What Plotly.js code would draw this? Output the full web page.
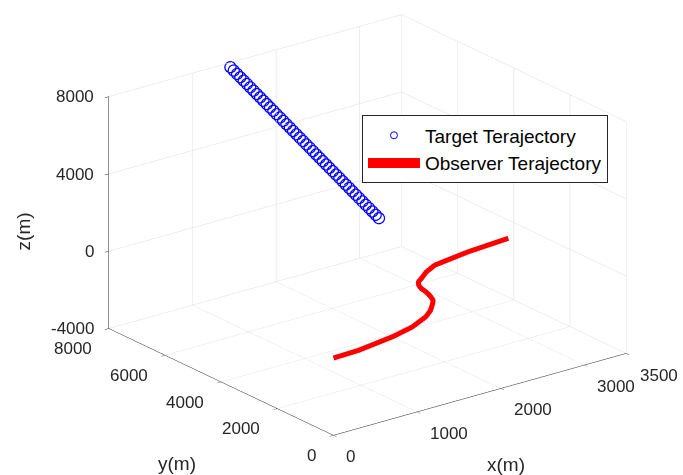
<!DOCTYPE html>
<html>
<head>
<meta charset="utf-8">
<script src="https://cdn.plot.ly/plotly-3.0.1.min.js"></script>
<style>html,body{margin:0;padding:0;background:#fff;}#chart{width:683px;height:475px;}#diag{position:absolute;left:5px;top:5px;font:12px monospace;color:#c00;}</style>
</head>
<body>
<div id="chart"></div>
<div id="diag"></div>
<script>
// Target trajectory (open circles)
const targetX = [1450,1489,1529,1568,1608,1647,1686,1726,1765,1805,1844,1884,1923,1963,2002,2042,2081,2120,2160,2199,2239,2278,2318,2357,2397,2436,2475,2515,2554,2594,2633,2673,2712,2752,2791,2830,2870,2909,2949,2988,3028,3067,3107,3146,3186,3225];
const targetY = [8000,8000,8000,8000,8000,8000,8000,8000,8000,8000,8000,8000,8000,8000,8000,8000,8000,8000,8000,8000,8000,8000,8000,8000,8000,8000,8000,8000,8000,8000,8000,8000,8000,8000,8000,8000,8000,8000,8000,8000,8000,8000,8000,8000,8000,8000];
const targetZ = [7775,7554,7332,7111,6889,6668,6447,6225,6004,5782,5561,5340,5118,4897,4675,4454,4233,4011,3790,3568,3347,3126,2904,2683,2461,2240,2019,1797,1576,1354,1133,912,690,469,247,26,-196,-417,-639,-860,-1081,-1303,-1524,-1746,-1967,-2188];

// Observer trajectory (red line)
const observerX = [0,314,778,1089,1348,1481,1612,1667,1718,1749,1761,1795,1838,1920,2063,2232,2465,2696,2954,3212];
const observerY = [0,32,221,430,725,957,1266,1417,1700,1943,2122,2309,2456,2590,2835,3041,3138,3230,3284,3338];
const observerZ = [0,0,0,0,0,0,0,0,0,0,0,0,0,0,0,0,0,0,0,0];

const xTicks = [0,1000,2000,3000,3500];
const yTicks = [0,2000,4000,6000,8000];
const zTicks = [-4000,0,4000,8000];
const xLimits = [0, 3500];
const yLimits = [0, 8000];
const zLimits = [-4000, 8000];

const font = 'Liberation Sans, Arial, Helvetica, sans-serif';
const txt = '#262626';

function axis(range, ticks) {
  return {
    title: {text: ''},
    range: range, autorange: false,
    tickmode: 'array', tickvals: ticks, showticklabels: false,
    showgrid: true, gridcolor: '#dcdcdc', gridwidth: 1,
    showline: true, linecolor: '#262626', linewidth: 1,
    ticks: 'outside', ticklen: 5, tickcolor: '#262626',
    zeroline: false, showbackground: false, showspikes: false
  };
}

const tickFont = {family: font, size: 17, color: txt};
const annotations = [];
xTicks.forEach(function (t, i) {
  const last = i === xTicks.length - 1;
  // the label at the far range end is anchored to the previous tick and shifted along the axis
  annotations.push({x: last ? xTicks[i - 1] : t, y: yLimits[0], z: zLimits[0], text: String(t), showarrow: false,
    xanchor: 'left', yanchor: 'middle',
    xshift: last ? 54 : 11, yshift: last ? -10 : -21, font: tickFont});
});
yTicks.forEach(function (t) {
  annotations.push({x: xLimits[0], y: t, z: zLimits[0], text: String(t), showarrow: false,
    xanchor: 'right', yanchor: 'middle', xshift: -15, yshift: -20, font: tickFont});
});
zTicks.forEach(function (t) {
  annotations.push({x: xLimits[0], y: yLimits[1], z: t, text: String(t), showarrow: false,
    xanchor: 'right', yanchor: 'middle', xshift: -13, yshift: 0, font: tickFont});
});
const titleFont = {family: font, size: 19, color: txt};
annotations.push({x: (xLimits[0] + xLimits[1]) / 2, y: yLimits[0], z: zLimits[0], text: 'x(m)',
  showarrow: false, xanchor: 'center', yanchor: 'middle', xshift: 26, yshift: -70, font: titleFont});
annotations.push({x: xLimits[0], y: (yLimits[0] + yLimits[1]) / 2, z: zLimits[0], text: 'y(m)',
  showarrow: false, xanchor: 'center', yanchor: 'middle', xshift: -44, yshift: -81, font: titleFont});
annotations.push({x: xLimits[0], y: yLimits[1], z: 2000, text: 'z(m)', textangle: -90,
  showarrow: false, xanchor: 'center', yanchor: 'middle', xshift: -85, yshift: -19, font: titleFont});

const traces = [
  {type: 'scatter3d', mode: 'markers', name: 'Target Terajectory',
   x: targetX, y: targetY, z: targetZ,
   marker: {symbol: 'circle-open', size: 7, color: '#0000ff'}},
  {type: 'scatter3d', mode: 'lines', name: 'Observer Terajectory',
   x: observerX, y: observerY, z: observerZ,
   line: {color: '#ff0000', width: 10}}
];

const s = 1.64;
const layout = {
  width: 683, height: 475,
  margin: {l: 0, r: 0, t: 0, b: 0},
  paper_bgcolor: '#ffffff',
  showlegend: true,
  legend: {x: 0.53, y: 0.757, xanchor: 'left', yanchor: 'top', itemwidth: 52,
           bgcolor: '#ffffff', bordercolor: '#262626', borderwidth: 1,
           font: {family: font, size: 19, color: '#000000'}},
  scene: {
    domain: {x: [0.076, 1.0], y: [0.052, 1.0]},
    xaxis: axis(xLimits, xTicks),
    yaxis: axis(yLimits, yTicks),
    zaxis: axis(zLimits, zTicks),
    annotations: annotations,
    aspectmode: 'manual', aspectratio: {x: 1 * s, y: 1 * s, z: 0.675 * s},
    camera: {projection: {type: 'orthographic'},
             up: {x: 0, y: 0, z: 1}, center: {x: 0, y: 0, z: 0},
             eye: {x: -0.567 * 2, y: -0.739 * 2, z: 0.365 * 2}}
  }
};

Plotly.newPlot('chart', traces, layout, {displayModeBar: false})
  .catch(function (e) { document.getElementById('diag').textContent = 'fail: ' + e; });
</script>
</body>
</html>
